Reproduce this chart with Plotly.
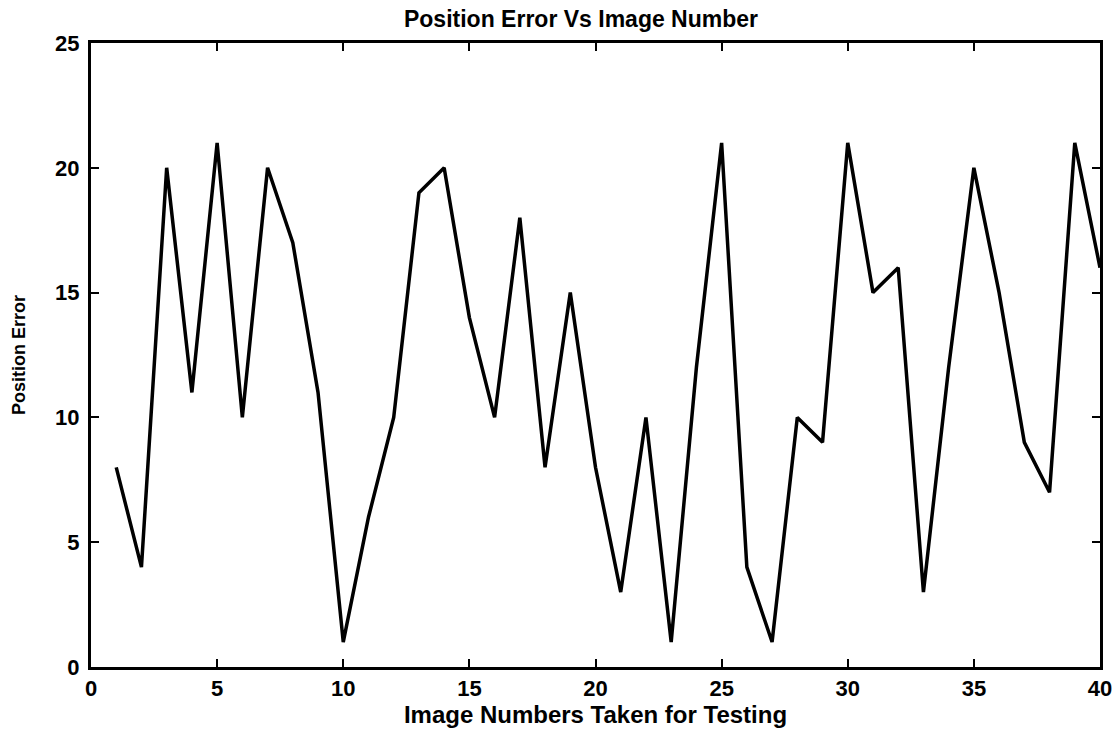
import plotly.graph_objects as go

image_numbers = list(range(1, 41))
position_error = [8, 4, 20, 11, 21, 10, 20, 17, 11, 1,
                  6, 10, 19, 20, 14, 10, 18, 8, 15, 8,
                  3, 10, 1, 12, 21, 4, 1, 10, 9, 21,
                  15, 16, 3, 12, 20, 15, 9, 7, 21, 16]

x_ticks = [0, 5, 10, 15, 20, 25, 30, 35, 40]
y_ticks = [0, 5, 10, 15, 20, 25]

FONT = "Liberation Sans"

fig = go.Figure()
fig.add_trace(go.Scatter(
    x=image_numbers, y=position_error, mode="lines",
    line=dict(color="black", width=3.5), showlegend=False))

axis_common = dict(
    showline=True, linecolor="black", linewidth=3, mirror="allticks",
    ticks="inside", ticklen=8, tickwidth=2, tickcolor="black",
    showgrid=False, zeroline=False, automargin=False,
    tickfont=dict(family=FONT, size=22, color="black", weight="bold"),
)

fig.update_layout(
    width=1117, height=729,
    margin=dict(l=91, r=17, t=43, b=62, autoexpand=False),
    paper_bgcolor="white", plot_bgcolor="white",
    title=dict(text="<b>Position Error Vs Image Number</b>",
               font=dict(family=FONT, size=23, color="black"),
               x=581 / 1117, xanchor="center", xref="container",
               y=1 - 19 / 729, yanchor="middle"),
    xaxis=dict(range=[0, 40], tickvals=x_ticks,
               title=dict(text="<b>Image Numbers Taken for Testing</b>",
                          font=dict(family=FONT, size=24, color="black"), standoff=5),
               **axis_common),
    yaxis=dict(range=[0, 25], tickvals=y_ticks, ticklabelstandoff=4,
               title=dict(text="<b>Position Error</b>",
                          font=dict(family=FONT, size=18, color="black"), standoff=25),
               **axis_common),
)

fig.write_html("out.html", config={"displayModeBar": False},
               post_script="document.body.style.margin='0';")
